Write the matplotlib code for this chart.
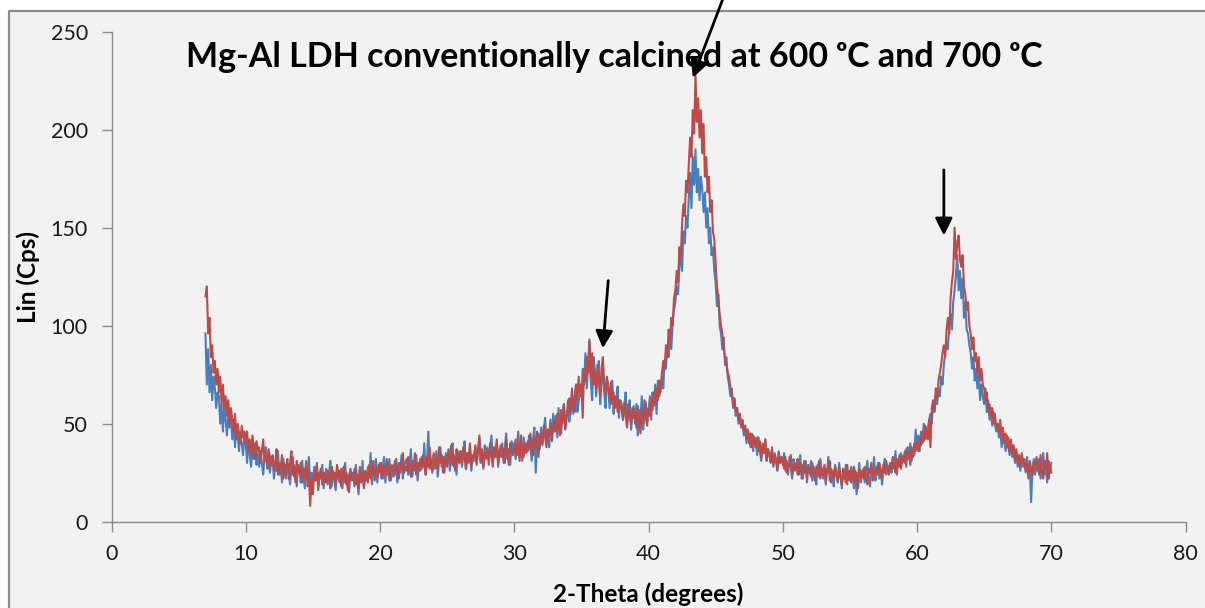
import numpy as np
import matplotlib
matplotlib.use("Agg")
import matplotlib.pyplot as plt
from matplotlib.patches import Rectangle
from matplotlib.lines import Line2D

# ---------------- data ----------------
theta_start = 7.0
theta_step = 0.1

# 600 oC sample (blue), one row per degree, 7.0 ... 70.0
intensity_600 = [
    96, 70, 88, 66, 80, 62, 74, 68, 58, 66,          # 7
    64, 50, 60, 46, 58, 52, 44, 56, 48, 52,          # 8
    42, 52, 38, 48, 44, 36, 46, 40, 34, 44,          # 9
    40, 30, 42, 34, 28, 38, 32, 40, 29, 35,          # 10
    28, 36, 30, 24, 34, 38, 27, 33, 25, 31,          # 11
    34, 22, 30, 26, 36, 24, 29, 20, 32, 27,          # 12
    22, 30, 25, 19, 28, 33, 23, 27, 18, 29,          # 13
    26, 20, 31, 23, 17, 27, 22, 33, 19, 25,          # 14
    18, 28, 21, 30, 16, 25, 22, 29, 17, 24,          # 15
    27, 19, 24, 31, 18, 26, 21, 16, 28, 22,          # 16
    20, 27, 17, 25, 30, 19, 24, 15, 26, 22,          # 17
    25, 18, 29, 21, 14, 26, 20, 31, 17, 24,          # 18
    21, 28, 23, 35, 19, 27, 24, 32, 20, 28,          # 19
    30, 22, 27, 33, 20, 29, 24, 32, 21, 27,          # 20
    23, 31, 26, 20, 30, 25, 34, 22, 28, 31,          # 21
    32, 24, 29, 37, 23, 30, 26, 34, 21, 29,          # 22
    26, 33, 28, 40, 24, 31, 46, 27, 32, 25,          # 23
    34, 27, 36, 23, 31, 38, 28, 33, 25, 35,          # 24
    29, 37, 26, 34, 40, 28, 33, 24, 36, 31,          # 25
    36, 28, 34, 41, 27, 35, 30, 38, 26, 33,          # 26
    31, 38, 29, 36, 43, 30, 35, 27, 39, 33,          # 27
    38, 29, 36, 44, 31, 37, 33, 41, 28, 36,          # 28
    33, 40, 30, 38, 45, 32, 37, 29, 41, 35,          # 29
    40, 32, 38, 46, 34, 39, 31, 43, 36, 40,          # 30
    36, 44, 38, 31, 42, 48, 25, 40, 45, 37,          # 31
    48, 39, 46, 53, 41, 47, 38, 50, 44, 55,          # 32
    46, 54, 43, 58, 49, 45, 56, 60, 47, 53,          # 33
    62, 51, 57, 66, 55, 63, 70, 56, 61, 67,          # 34
    64, 78, 70, 86, 68, 80, 93, 72, 62, 84,          # 35
    78, 64, 74, 82, 60, 71, 77, 66, 58, 73,          # 36
    70, 58, 66, 72, 55, 64, 61, 69, 53, 62,          # 37
    60, 52, 58, 66, 49, 56, 62, 47, 54, 59,          # 38
    50, 60, 44, 57, 52, 64, 47, 55, 61, 51,          # 39
    56, 64, 52, 66, 59, 70, 55, 72, 64, 68,          # 40
    74, 68, 82, 78, 90, 84, 97, 88, 102, 108,        # 41
    112, 120, 116, 130, 138, 128, 148, 142, 156, 150,  # 42
    165, 178, 160, 186, 172, 190, 168, 180, 164, 176,  # 43
    170, 158, 168, 150, 160, 142, 150, 136, 140, 128,  # 44
    122, 110, 116, 100, 96, 88, 94, 80, 84, 74,      # 45
    70, 64, 68, 58, 62, 54, 58, 50, 55, 48,          # 46
    52, 44, 49, 40, 47, 42, 38, 45, 36, 43,          # 47
    40, 34, 43, 36, 31, 40, 35, 42, 32, 37,          # 48
    34, 30, 38, 28, 35, 31, 26, 36, 30, 33,          # 49
    29, 35, 26, 31, 24, 33, 28, 22, 32, 27,          # 50
    30, 24, 28, 34, 22, 29, 25, 31, 20, 27,          # 51
    25, 31, 21, 28, 24, 19, 29, 23, 32, 26,          # 52
    22, 28, 19, 26, 33, 21, 27, 24, 18, 29,          # 53
    24, 20, 30, 23, 17, 27, 22, 29, 19, 25,          # 54
    21, 28, 24, 17, 26, 14, 22, 30, 20, 25,          # 55
    27, 20, 25, 31, 22, 18, 27, 24, 33, 21,          # 56
    25, 30, 22, 27, 19, 28, 32, 24, 29, 26,          # 57
    29, 25, 33, 27, 36, 24, 31, 28, 35, 30,          # 58
    32, 36, 28, 38, 33, 40, 31, 37, 34, 47,          # 59
    38, 44, 36, 46, 40, 50, 42, 48, 45, 52,          # 60
    55, 50, 60, 56, 64, 60, 68, 64, 74, 70,          # 61
    80, 86, 92, 88, 100, 106, 98, 112, 118, 126,     # 62
    136, 118, 128, 114, 124, 104, 112, 98, 96, 90,   # 63
    86, 78, 84, 72, 78, 68, 76, 62, 70, 64,          # 64
    60, 68, 56, 62, 52, 58, 49, 56, 50, 46,          # 65
    50, 43, 48, 38, 45, 41, 36, 44, 38, 34,          # 66
    40, 33, 37, 30, 35, 28, 33, 26, 32, 28,          # 67
    30, 25, 33, 22, 29, 10, 27, 32, 24, 30,          # 68
    26, 32, 22, 29, 35, 24, 28, 20, 31, 26,          # 69
    30,                                              # 70
]

# 700 oC sample (red)
intensity_700 = [
    115, 120, 96, 104, 84, 90, 76, 82, 70, 78,       # 7
    66, 74, 60, 70, 58, 64, 54, 62, 50, 58,          # 8
    52, 46, 55, 42, 50, 45, 40, 49, 43, 46,          # 9
    40, 46, 36, 42, 34, 44, 38, 32, 41, 36,          # 10
    38, 30, 36, 42, 31, 35, 28, 37, 33, 29,          # 11
    33, 26, 31, 37, 24, 30, 27, 34, 22, 29,          # 12
    28, 32, 22, 30, 36, 24, 29, 20, 31, 26,          # 13
    25, 30, 20, 27, 23, 31, 18, 26, 8, 22,           # 14
    14, 26, 21, 29, 18, 24, 27, 19, 25, 22,          # 15
    20, 26, 23, 17, 28, 22, 25, 19, 29, 23,          # 16
    26, 18, 24, 28, 20, 25, 16, 23, 27, 21,          # 17
    22, 27, 19, 24, 17, 28, 21, 25, 18, 26,          # 18
    24, 20, 29, 22, 26, 31, 21, 27, 23, 29,          # 19
    25, 30, 22, 28, 24, 32, 26, 21, 29, 27,          # 20
    29, 24, 32, 26, 22, 30, 27, 35, 25, 28,          # 21
    26, 33, 28, 23, 31, 27, 35, 24, 30, 28,          # 22
    32, 27, 34, 29, 24, 33, 28, 38, 30, 26,          # 23
    35, 29, 32, 27, 38, 30, 34, 25, 33, 31,          # 24
    28, 36, 31, 39, 29, 34, 26, 37, 32, 30,          # 25
    36, 30, 38, 33, 27, 35, 31, 40, 29, 34,          # 26
    33, 39, 30, 36, 44, 31, 37, 28, 35, 32,          # 27
    37, 31, 40, 34, 28, 38, 33, 42, 30, 36,          # 28
    39, 33, 37, 30, 42, 35, 29, 40, 36, 34,          # 29
    36, 42, 34, 39, 31, 44, 37, 33, 40, 35,          # 30
    41, 37, 45, 39, 34, 43, 38, 46, 33, 42,          # 31
    45, 40, 49, 43, 38, 47, 44, 52, 41, 48,          # 32
    51, 46, 55, 49, 44, 57, 50, 60, 48, 54,          # 33
    57, 63, 55, 68, 60, 56, 70, 62, 74, 66,          # 34
    70, 53, 78, 72, 84, 76, 92, 74, 86, 70,          # 35
    76, 68, 80, 72, 64, 78, 84, 70, 66, 74,          # 36
    68, 62, 71, 60, 66, 58, 64, 56, 62, 60,          # 37
    57, 52, 61, 55, 48, 60, 54, 50, 58, 53,          # 38
    56, 48, 59, 52, 45, 57, 50, 62, 53, 49,          # 39
    58, 54, 63, 57, 66, 60, 68, 62, 72, 66,          # 40
    76, 82, 78, 90, 84, 98, 92, 104, 100, 114,       # 41
    118, 128, 122, 140, 134, 152, 162, 156, 174, 168,  # 42
    182, 196, 186, 210, 198, 228, 204, 216, 196, 210,  # 43
    188, 203, 176, 186, 168, 176, 158, 164, 148, 144,  # 44
    132, 120, 114, 106, 100, 96, 88, 84, 80, 76,     # 45
    74, 68, 66, 60, 63, 56, 58, 52, 55, 49,          # 46
    51, 46, 49, 42, 47, 40, 45, 38, 44, 41,          # 47
    38, 43, 36, 41, 33, 39, 35, 42, 31, 37,          # 48
    35, 31, 37, 29, 34, 32, 27, 35, 30, 33,          # 49
    31, 27, 33, 25, 30, 28, 34, 24, 29, 26,          # 50
    28, 32, 24, 30, 26, 22, 31, 27, 23, 29,          # 51
    26, 23, 30, 25, 21, 28, 24, 31, 22, 27,          # 52
    24, 29, 21, 27, 25, 31, 20, 26, 23, 28,          # 53
    25, 21, 28, 23, 19, 27, 24, 20, 29, 22,          # 54
    26, 20, 24, 28, 21, 25, 17, 27, 23, 26,          # 55
    22, 28, 24, 19, 27, 25, 30, 21, 26, 24,          # 56
    28, 24, 30, 26, 22, 29, 25, 31, 27, 24,          # 57
    30, 27, 33, 28, 25, 32, 29, 34, 27, 31,          # 58
    34, 30, 37, 32, 35, 29, 38, 33, 40, 36,          # 59
    40, 36, 43, 39, 46, 41, 49, 44, 42, 52,          # 60
    38, 58, 62, 57, 68, 63, 72, 76, 80, 86,          # 61
    90, 84, 98, 104, 96, 114, 122, 128, 150, 134,    # 62
    142, 146, 134, 130, 136, 120, 116, 108, 112, 100,  # 63
    96, 88, 94, 82, 86, 76, 84, 72, 78, 70,          # 64
    68, 62, 66, 56, 60, 54, 58, 50, 55, 48,          # 65
    50, 46, 52, 42, 48, 40, 45, 38, 43, 36,          # 66
    42, 35, 39, 32, 37, 30, 34, 28, 35, 30,          # 67
    32, 26, 30, 23, 31, 27, 24, 30, 26, 33,          # 68
    28, 24, 34, 26, 22, 31, 27, 35, 22, 29,          # 69
    25,                                              # 70
]

assert len(intensity_600) == 631 and len(intensity_700) == 631
two_theta = np.round(theta_start + theta_step * np.arange(len(intensity_600)), 2)

x_ticks = [0, 10, 20, 30, 40, 50, 60, 70, 80]
y_ticks = [0, 50, 100, 150, 200, 250]

title_text = "Mg-Al LDH conventionally calcined at 600 \u1d52C and 700 \u1d52C"
x_label = "2-Theta (degrees)"
y_label = "Lin (Cps)"

# arrows: (tail x, tail y, head x, head y) in data units
arrows = [
    (45.5, 266.0, 43.3, 226.5),
    (37.0, 123.0, 36.6, 88.5),
    (62.0, 179.5, 62.0, 146.0),
]

# ---------------- figure ----------------
FONT = ["Lato", "DejaVu Sans"]
plt.rcParams["font.family"] = FONT

fig = plt.figure(figsize=(12.05, 6.08), dpi=100, facecolor="white")
x0 = 9 / 1205
y1 = 1 - 11 / 608
fig.patches.append(Rectangle((x0, 0), 1 - x0, y1, transform=fig.transFigure,
                             facecolor="#f2f2f2", edgecolor="none", zorder=-10))
fig.lines.append(Line2D([x0, x0, 1.01], [0, y1, y1], transform=fig.transFigure,
                        color="#8c8c8c", lw=1.6, zorder=-5))

ax = fig.add_axes([111.5 / 1205, 86.3 / 608, 1074 / 1205, 490 / 608])
ax.set_zorder(2)
ax.set_facecolor("none")

ax.plot(two_theta, intensity_600, color="#4a7ebb", lw=1.5)
ax.plot(two_theta, intensity_700, color="#be4b48", lw=1.5)

ax.set_xlim(0, 80)
ax.set_ylim(0, 250)
ax.set_xticks(x_ticks)
ax.set_yticks(y_ticks)
for s in ("top", "right"):
    ax.spines[s].set_visible(False)
for s in ("left", "bottom"):
    ax.spines[s].set_color("#8c8c8c")
    ax.spines[s].set_linewidth(1.0)
ax.tick_params(direction="out", length=7, width=1.0, color="#8c8c8c",
               labelsize=15.5, labelcolor="#1a1a1a")
ax.tick_params(axis="x", pad=9)
ax.tick_params(axis="y", pad=10)

ax.set_xlabel(x_label, fontsize=17.5, fontweight="bold", labelpad=13)
ax.set_ylabel(y_label, fontsize=17.5, fontweight="bold", labelpad=8)

ax.text(0.4685, 1 - (57 - 32) / 490, title_text, transform=ax.transAxes,
        fontsize=24.5, fontweight="bold", ha="center", va="center", family=FONT)

for tx, ty, hx, hy in arrows:
    ax.annotate("", xy=(hx, hy), xytext=(tx, ty),
                arrowprops=dict(arrowstyle="-|>", color="black", lw=2.0,
                                mutation_scale=26, shrinkA=0, shrinkB=0),
                annotation_clip=False)

fig.savefig("out.png", dpi=100, facecolor=fig.get_facecolor())
